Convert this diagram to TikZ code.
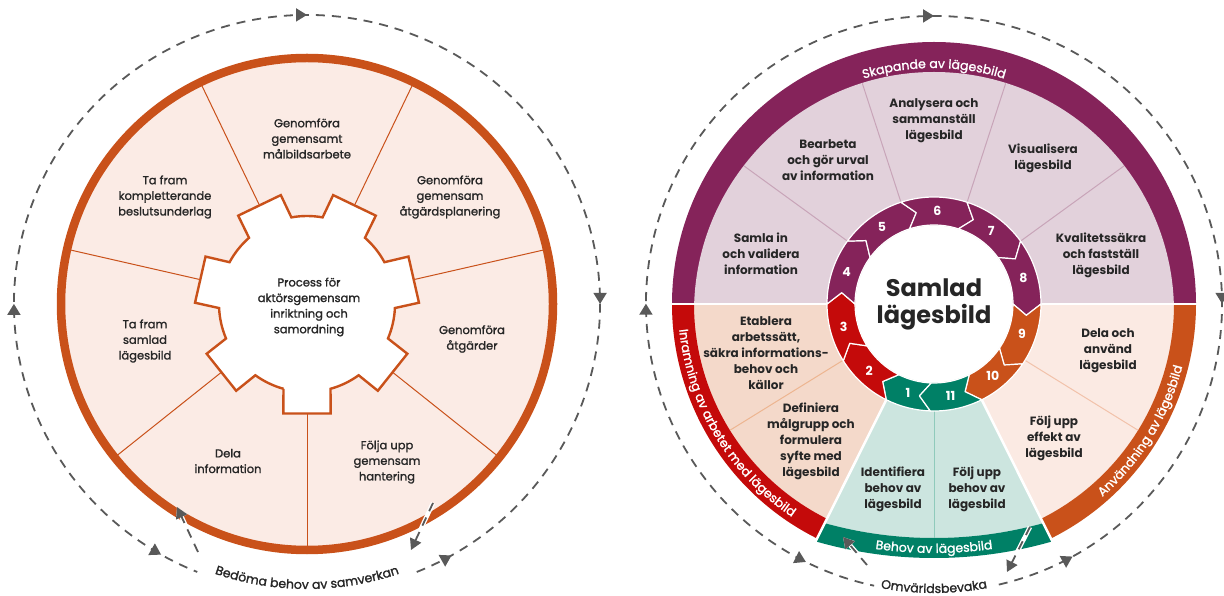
\documentclass[tikz,border=0pt]{standalone}
\usepackage{fontspec}
\setmainfont{Poppins}
\newfontfamily\medfont{Poppins}[FakeBold=1.4]
\usetikzlibrary{arrows.meta,decorations.markings,decorations.text}

\definecolor{ringor}{HTML}{C9511A}
\definecolor{lpink}{HTML}{FBEBE5}
\definecolor{purp}{HTML}{85235A}
\definecolor{lpurp}{HTML}{E2D1DB}
\definecolor{redb}{HTML}{C40A0A}
\definecolor{peach}{HTML}{F4D9CA}
\definecolor{orb}{HTML}{C9511A}
\definecolor{lpinkr}{HTML}{FBEAE3}
\definecolor{grn}{HTML}{008066}
\definecolor{lgreen}{HTML}{CCE5DF}
\definecolor{lgrey}{HTML}{595959}
\definecolor{txt}{HTML}{262626}

\newcommand{\bandfont}{\medfont\fontsize{12.5}{12.5}\selectfont\color{white}}
\newcommand{\loopfont}{\medfont\fontsize{12.5}{12.5}\selectfont\color{txt}}

\begin{document}
\begin{tikzpicture}[x=1pt,y=1pt,
    ltxt/.style={align=center,text=txt,font=\medfont\fontsize{11.5}{15.6}\selectfont},
    rtxt/.style={align=center,text=txt,font=\fontsize{12}{16}\selectfont\bfseries},
    numtxt/.style={text=white,font=\fontsize{12.5}{13}\selectfont\bfseries},
    divline/.style={line width=1},
    sepline/.style={draw=white,line width=2.5},
    loopline/.style={draw=lgrey,line width=1.8,dash pattern=on 9pt off 7pt},
    tip/.style={-{Triangle[length=11pt,width=12pt]}},
  ]
  \useasboundingbox (0,0) rectangle (1224,595);
  \coordinate (L) at (307,291);
  \coordinate (C) at (934,291);

  % left wheel
  \fill[lpink] (L) circle (246);
  \foreach \a in {-90,-38.57,12.86,64.29,115.71,167.14,218.57}
    \draw[ringor,divline] ([shift={(\a:105)}]L) -- ([shift={(\a:243)}]L);
  \draw[ringor,line width=8.5] (L) circle (246);
  \begin{scope}[shift={(L)}]
    \filldraw[fill=white,draw=ringor,line width=2.4]
      (-105.5:88) \foreach \k in {0,...,6}{
        -- ({-90+\k*51.43-15.5}:88) -- ({-90+\k*51.43-12.2}:112)
        -- ({-90+\k*51.43+12.2}:112) -- ({-90+\k*51.43+15.5}:88)
        arc[start angle={-90+\k*51.43+15.5},delta angle=20.43,radius=88]} -- cycle;
  \end{scope}

  \node[ltxt] (process) at (309,288) {Process för\\aktörsgemensam\\inriktning och\\samordning};
  \node[ltxt] (malbild) at (307,456.5) {Genomföra\\gemensamt\\målbildsarbete};
  \node[ltxt] (planering) at (450,398) {Genomföra\\gemensam\\åtgärdsplanering};
  \node[ltxt] (atgarder) at (472,256) {Genomföra\\åtgärder};
  \node[ltxt] (foljaupp) at (387,133) {Följa upp\\gemensam\\hantering};
  \node[ltxt] (delainfo) at (228,134) {Dela\\information};
  \node[ltxt] (samlad) at (145,254) {Ta fram\\samlad\\lägesbild};
  \node[ltxt] (underlag) at (165,398) {Ta fram\\kompletterande\\beslutsunderlag};

  % left loop
  \draw[loopline,postaction={decorate,decoration={markings,
      mark=at position 0.024 with {\arrow{Triangle[length=11pt,width=13pt]}},
      mark=at position 0.215 with {\arrowreversed{Triangle[length=11pt,width=13pt]}},
      mark=at position 0.5 with {\arrowreversed{Triangle[length=11pt,width=13pt]}},
      mark=at position 0.785 with {\arrowreversed{Triangle[length=11pt,width=13pt]}},
      mark=at position 0.975 with {\arrow{Triangle[length=11pt,width=13pt]}}}}]
    (L) ++(-68:293 and 289) arc[start angle=-68,end angle=248,x radius=293,y radius=289];
  \path[decorate,decoration={text along path,text align=center,
      text={|\loopfont|Bedöma behov av samverkan}}]
    (L) ++(-130:285) arc[start angle=-130,end angle=-50,radius=285];
  \coordinate (lin1) at (198,43);
  \coordinate (lin2) at (177,88);
  \coordinate (lout1) at (433,92);
  \coordinate (lout2) at (411,45);
  \draw[loopline,tip,preaction={draw=white,line width=4.5,solid}] (lin1) -- (lin2);
  \draw[loopline,tip,preaction={draw=white,line width=4.5,solid}] (lout1) -- (lout2);

  % right wheel
  \begin{scope}[shift={(C)}]
    \fill[purp] (0:262) arc[start angle=0,end angle=180,radius=262] -- cycle;
    \begin{scope}
      \clip (-262,0) rectangle (262,262);
      \fill[lpurp] (0,-8) circle (240);
    \end{scope}
    \fill[peach] (0,0) -- (180:262) arc[start angle=180,end angle=243.5,radius=262] -- cycle;
    \fill[redb] (180:262) arc[start angle=180,end angle=243.5,radius=262]
      -- (243.5:240) arc[start angle=243.5,end angle=180,radius=240] -- cycle;
    \fill[lpinkr] (0,0) -- (296.5:262) arc[start angle=296.5,end angle=360,radius=262] -- cycle;
    \fill[orb] (296.5:262) arc[start angle=296.5,end angle=360,radius=262]
      -- (0:240) arc[start angle=360,end angle=296.5,radius=240] -- cycle;
    \begin{scope}
      \clip (0,0) -- (243.5:340) -- (296.5:340) -- cycle;
      \fill[lgreen] (0,173) circle (407);
      \fill[grn,even odd rule] (0,173) circle (427) (0,173) circle (407);
    \end{scope}

    \foreach \a/\r in {36/235,72/232,108/232,144/235}
      \draw[draw={rgb,255:red,200;green,164;blue,184},divline] (\a:106) -- (\a:\r);
    \draw[draw={rgb,255:red,237;green,181;blue,144},divline] (211.75:106) -- (211.75:240);
    \draw[draw={rgb,255:red,242;green,194;blue,170},divline] (328.25:106) -- (328.25:240);
    \draw[draw={rgb,255:red,143;green,202;blue,187},divline] (270:106) -- (270:234);

    \draw[sepline] (180:264) -- (0:264);
    \draw[sepline] (243.5:100) -- (243.5:268);
    \draw[sepline] (296.5:100) -- (296.5:268);

    \foreach \n/\s/\e/\c in {1/268/243.5/grn,2/243.5/212/redb,3/212/180/redb,
        4/180/144/purp,5/144/108/purp,6/108/72/purp,7/72/36/purp,8/36/0/purp,
        9/360/326/orb,10/326/296.5/orb,11/296.5/268/grn}{
      \filldraw[fill=\c,draw=white,line width=1.2,line join=round]
        (\s:107) arc[start angle=\s,end angle=\e,radius=107] -- ({\e-7}:93)
        -- (\e:79) arc[start angle=\e,end angle=\s,radius=79] -- ({\s-7}:93) -- cycle;
      \node[numtxt] (n\n) at ({(\s+\e)/2-2}:93) {\n};
    }
    \fill[white] (0,0) circle (78.4);
    \node[align=center,text=txt,font=\fontsize{24}{27}\selectfont\bfseries] (core) at (0,0) {Samlad\\lägesbild};

    \path[decorate,decoration={text along path,text align=center,
        text={|\bandfont|Skapande av lägesbild}}]
      (125:236) arc[start angle=125,end angle=55,radius=236];
    \path[decorate,decoration={text along path,text align=center,
        text={|\bandfont|Inramning av arbetet med lägesbild}}]
      (170:256) arc[start angle=170,end angle=252,radius=256];
    \path[decorate,decoration={text along path,text align=center,
        text={|\bandfont|Användning av lägesbild}}]
      (-70:256) arc[start angle=-70,end angle=7,radius=256];
    \path[decorate,decoration={text along path,text align=center,
        text={|\bandfont|Behov av lägesbild}}]
      (0,173) ++(-105:422) arc[start angle=-105,end angle=-75,radius=422];
  \end{scope}

  \node[rtxt] (analys) at (934,474.3) {Analysera och\\sammanställ\\lägesbild};
  \node[rtxt] (bearbeta) at (828,435) {Bearbeta\\och gör urval\\av information};
  \node[rtxt] (visual) at (1043,436.4) {Visualisera\\lägesbild};
  \node[rtxt] (samla) at (761,341) {Samla in\\och validera\\information};
  \node[rtxt] (kvalitet) at (1101,339.6) {Kvalitetssäkra\\och fastställ\\lägesbild};
  \node[rtxt] (etablera) at (766,242) {Etablera\\arbetssätt,\\säkra informations-\\behov och\\källor};
  \node[rtxt] (definiera) at (811,154) {Definiera\\målgrupp och\\formulera\\syfte med\\lägesbild};
  \node[rtxt] (dela) at (1108,244) {Dela och\\använd\\lägesbild};
  \node[rtxt] (effekt) at (1054,157) {Följ upp\\effekt av\\lägesbild};
  \node[rtxt] (identifiera) at (893,105.4) {Identifiera\\behov av\\lägesbild};
  \node[rtxt] (behov) at (977,105.4) {Följ upp\\behov av\\lägesbild};

  % right loop
  \draw[loopline,postaction={decorate,decoration={markings,
      mark=at position 0.047 with {\arrow{Triangle[length=11pt,width=13pt]}},
      mark=at position 0.23 with {\arrowreversed{Triangle[length=11pt,width=13pt]}},
      mark=at position 0.4985 with {\arrowreversed{Triangle[length=11pt,width=13pt]}},
      mark=at position 0.767 with {\arrowreversed{Triangle[length=11pt,width=13pt]}},
      mark=at position 0.957 with {\arrow{Triangle[length=11pt,width=13pt]}}}}]
    (C) ++(-77:288) arc[start angle=-77,end angle=258,radius=288];
  \path[decorate,decoration={text along path,text align=center,
      text={|\loopfont|Omvärldsbevaka}}]
    (C) ++(-115:289) arc[start angle=-115,end angle=-65,radius=289];
  \coordinate (rin1) at (867,30);
  \coordinate (rin2) at (843,58);
  \coordinate (rout1) at (1030,68);
  \coordinate (rout2) at (1007,23);
  \draw[loopline,tip,preaction={draw=white,line width=4.5,solid}] (rin1) -- (rin2);
  \draw[loopline,tip,preaction={draw=white,line width=4.5,solid}] (rout1) -- (rout2);
\end{tikzpicture}
\end{document}
